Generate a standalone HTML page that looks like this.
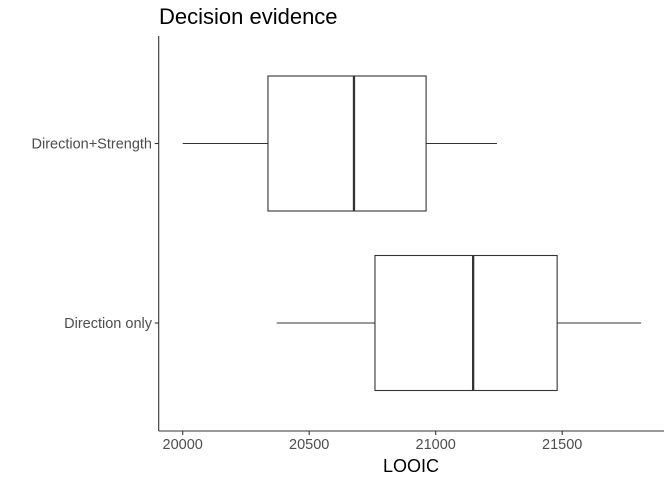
<!DOCTYPE html>
<html><head><meta charset="utf-8"><style>
body{margin:0;background:#fff}
svg{display:block;font-family:"Liberation Sans",Arial,sans-serif}
</style></head><body>
<svg id="chart" width="672" height="480" viewBox="0 0 672 480">
<text x="159" y="24" font-size="22" fill="#000">Decision evidence</text>
<g id="plot"></g>
<line x1="158.7" y1="36" x2="158.7" y2="431" stroke="#333" stroke-width="1.1"/>
<line x1="158.7" y1="431" x2="664" y2="431" stroke="#333" stroke-width="1.1"/>
<g id="xticks"></g>
<g id="yticks"></g>
<text x="411" y="472" font-size="18" text-anchor="middle" fill="#000">LOOIC</text>
</svg>
<script>
const categories=["Direction+Strength","Direction only"];
const mins=[20000,20372];
const q1s=[20337,20760];
const medians=[20677,21148];
const q3s=[20962,21480];
const maxs=[21242,21812];
const xTicks=[20000,20500,21000,21500];
const xTickLabels=["20000","20500","21000","21500"];
const NS="http://www.w3.org/2000/svg";
function x(v){return 182.7+(v-20000)*0.253;}
function y(i){return 143.5+i*179.5;}
const halfH=67.5;
function mk(tag,attrs,parent){const e=document.createElementNS(NS,tag);for(const k in attrs)e.setAttribute(k,attrs[k]);parent.appendChild(e);return e;}
const plot=document.getElementById('plot');
categories.forEach((c,i)=>{
  const cy=y(i);
  const g=mk('g',{},plot);
  
  
  let l=mk('line',{x1:x(mins[i]),x2:x(q1s[i]),y1:cy,y2:cy,stroke:'#333','stroke-width':1.1},g);
  
  
  l=mk('line',{x1:x(q3s[i]),x2:x(maxs[i]),y1:cy,y2:cy,stroke:'#333','stroke-width':1.1},g);
  
  
  const r=mk('rect',{x:x(q1s[i]),y:cy-halfH,width:x(q3s[i])-x(q1s[i]),height:2*halfH,fill:'#fff',stroke:'#333','stroke-width':1.1},g);
  
  
  l=mk('line',{x1:x(medians[i]),x2:x(medians[i]),y1:cy-halfH,y2:cy+halfH,stroke:'#333','stroke-width':2.3},g);
  
  
});
const xt=document.getElementById('xticks');
xTicks.forEach((v,i)=>{
  const t=mk('line',{x1:x(v),x2:x(v),y1:431,y2:435,stroke:'#333','stroke-width':1.1},xt);
  
  
  const tx=mk('text',{x:x(v),y:449,'font-size':14.5,'text-anchor':'middle',fill:'#4d4d4d'},xt);
  tx.textContent=xTickLabels[i];
  
  
});
const yt=document.getElementById('yticks');
categories.forEach((c,i)=>{
  const t=mk('line',{x1:154.7,x2:158.7,y1:y(i),y2:y(i),stroke:'#333','stroke-width':1.1},yt);
  
  
  const tx=mk('text',{x:152,y:y(i)+5,'font-size':14.5,'text-anchor':'end',fill:'#4d4d4d'},yt);
  tx.textContent=c;
  
  
});
</script>
</body></html>
